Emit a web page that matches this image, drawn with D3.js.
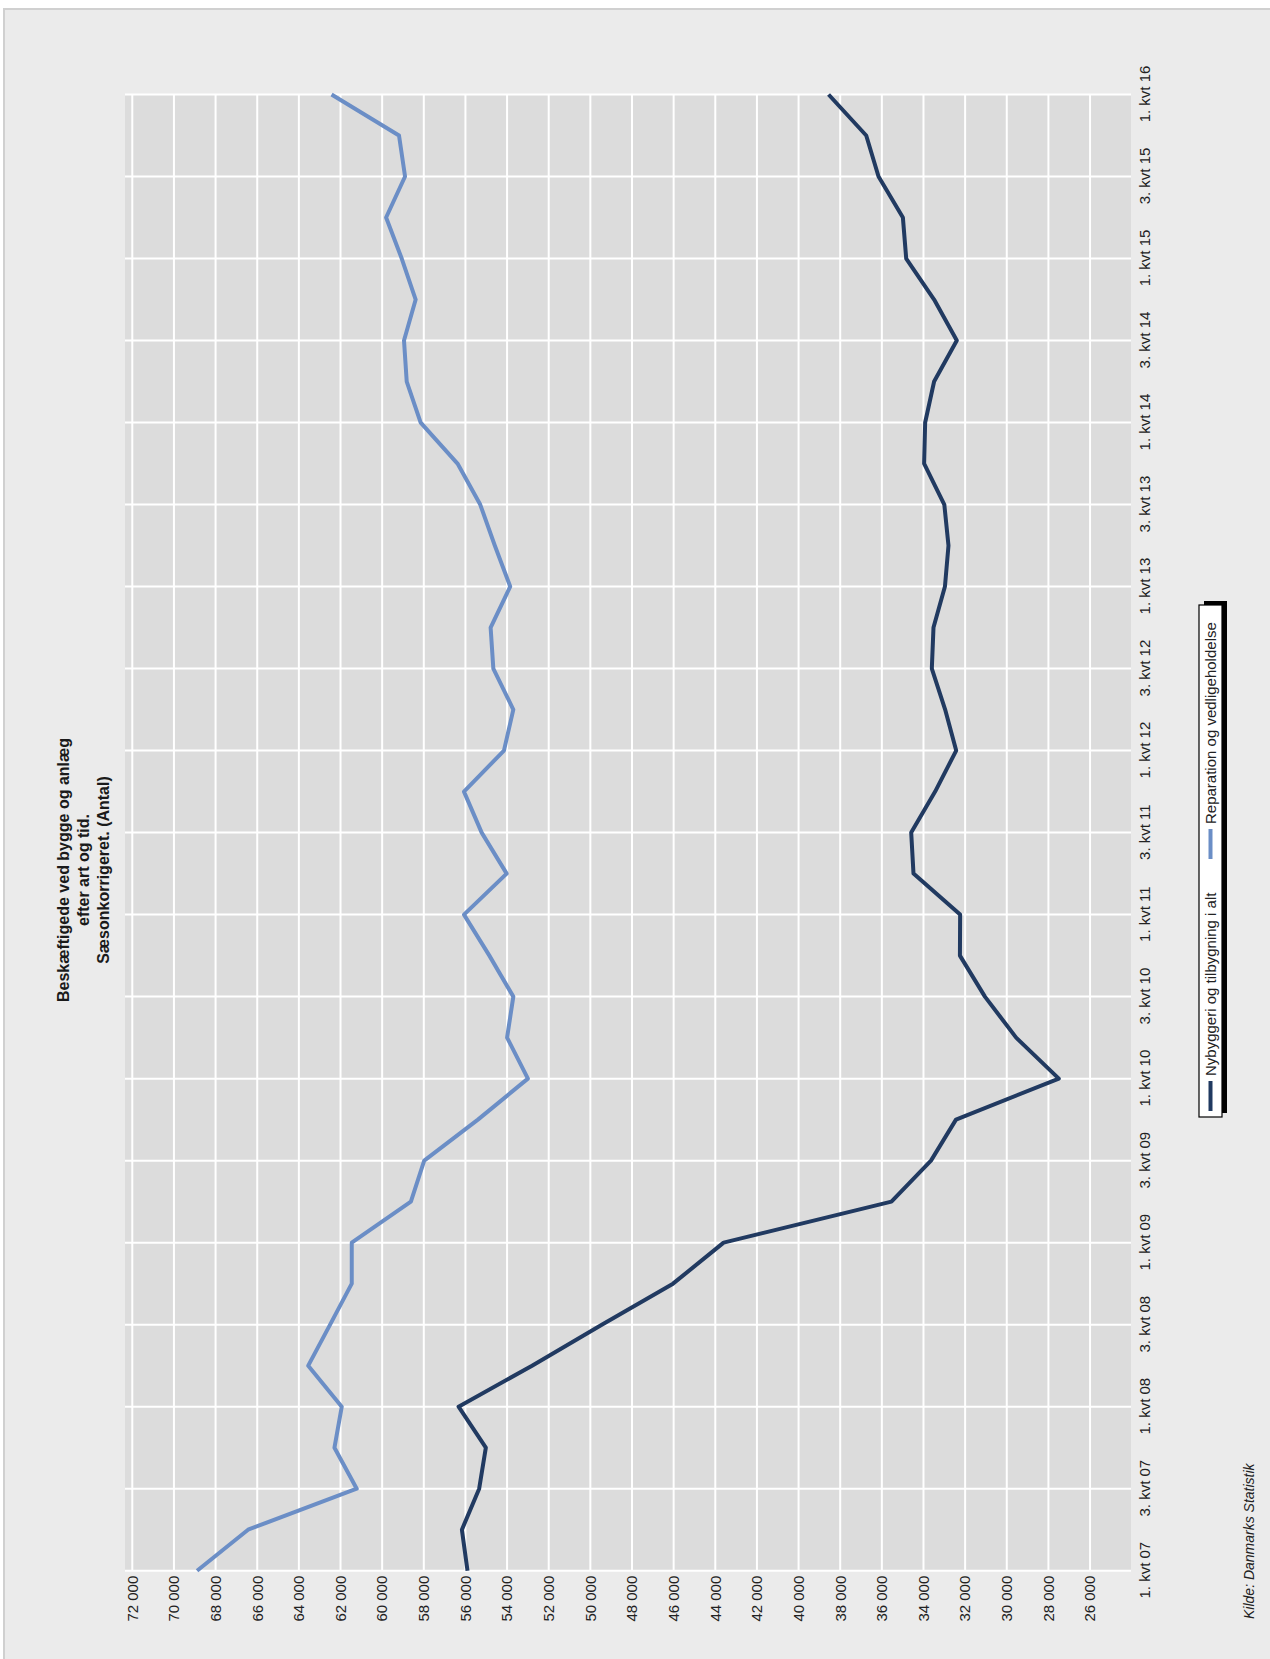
<!DOCTYPE html>
<html>
<head>
<meta charset="utf-8">
<script src="https://cdn.jsdelivr.net/npm/d3@7"></script>
<style>
  html, body { margin: 0; padding: 0; background: #ffffff; }
  svg { display: block; font-family: "Liberation Sans", Arial, sans-serif; }
</style>
</head>
<body>
<svg id="chart" width="1270" height="1659"></svg>
<script>
// Quarters shown on the category axis
const quarters = [
  "1. kvt 07", "2. kvt 07", "3. kvt 07", "4. kvt 07",
  "1. kvt 08", "2. kvt 08", "3. kvt 08", "4. kvt 08",
  "1. kvt 09", "2. kvt 09", "3. kvt 09", "4. kvt 09",
  "1. kvt 10", "2. kvt 10", "3. kvt 10", "4. kvt 10",
  "1. kvt 11", "2. kvt 11", "3. kvt 11", "4. kvt 11",
  "1. kvt 12", "2. kvt 12", "3. kvt 12", "4. kvt 12",
  "1. kvt 13", "2. kvt 13", "3. kvt 13", "4. kvt 13",
  "1. kvt 14", "2. kvt 14", "3. kvt 14", "4. kvt 14",
  "1. kvt 15", "2. kvt 15", "3. kvt 15", "4. kvt 15",
  "1. kvt 16"
];

// Employed persons, seasonally adjusted
const nybyggeri = [
  55900, 56170, 55340, 55020, 56330, 52800, 49450, 46030,
  43600, 35540, 33640, 32440, 27500, 29550, 31050, 32250,
  32240, 34480, 34590, 33440, 32430, 32960, 33600, 33520,
  32970, 32800, 33000, 33970, 33920, 33490, 32400, 33490,
  34830, 34990, 36160, 36750, 38560
];
const reparation = [
  68890, 66440, 61220, 62290, 61940, 63550, 62500, 61460,
  61460, 58620, 57980, 55400, 53000, 54000, 53700, 54850,
  56070, 54020, 55220, 56070, 54150, 53700, 54660, 54790,
  53850, 54590, 55290, 56380, 58150, 58820, 58950, 58390,
  59060, 59810, 58900, 59190, 62430
];

const valueTicks = [72000, 70000, 68000, 66000, 64000, 62000, 60000, 58000,
  56000, 54000, 52000, 50000, 48000, 46000, 44000, 42000, 40000, 38000,
  36000, 34000, 32000, 30000, 28000, 26000];
const categoryTicks = quarters.filter((d, i) => i % 2 === 0);

const seriesNames = ["Nybyggeri og tilbygning i alt", "Reparation og vedligeholdelse"];
const seriesColors = ["#213a61", "#6b8ec6"];
const titleLines = ["Beskæftigede ved bygge og anlæg", "efter art og tid.", "Sæsonkorrigeret. (Antal)"];
const sourceNote = "Kilde: Danmarks Statistik";

const W = 1270, H = 1659;
const svg = d3.select("#chart");

// chart area background
svg.append("rect")
  .attr("x", 4).attr("y", 9)
  .attr("width", W).attr("height", H)
  .attr("fill", "#ebebeb")
  .attr("stroke", "#d0d0d0")
  .attr("stroke-width", 2);

// The chart is laid out in its own frame (width = page height) and turned a quarter turn.
const g = svg.append("g").attr("transform", `translate(0,${H}) rotate(-90)`);

const plot = { left: 88.3, right: 1564.5, top: 125, bottom: 1131 };

const x = d3.scalePoint().domain(quarters).range([plot.left, plot.right]);
const y = d3.scaleLinear().domain([72000, 24000]).range([132.3, 1131.7]);

const fmt = d3.formatLocale({ decimal: ",", thousands: " ", grouping: [3], currency: ["", ""] }).format(",d");

// plot area
g.append("rect")
  .attr("x", plot.left).attr("y", plot.top)
  .attr("width", plot.right - plot.left)
  .attr("height", plot.bottom - plot.top)
  .attr("fill", "#dcdcdc");

// gridlines
g.append("g").selectAll("line").data(valueTicks).join("line")
  .attr("x1", plot.left).attr("x2", plot.right)
  .attr("y1", d => y(d)).attr("y2", d => y(d))
  .attr("stroke", "#ffffff").attr("stroke-width", 2);

g.append("g").selectAll("line").data(categoryTicks).join("line")
  .attr("x1", d => x(d)).attr("x2", d => x(d))
  .attr("y1", plot.top).attr("y2", plot.bottom)
  .attr("stroke", "#ffffff").attr("stroke-width", 2);

// value axis
const yAxis = g.append("g")
  .attr("transform", `translate(${plot.left - 1},0)`)
  .call(d3.axisLeft(y).tickValues(valueTicks).tickFormat(fmt).tickSize(0).tickPadding(4));
yAxis.select(".domain").remove();
yAxis.selectAll("text")
  .attr("font-size", 15)
  .attr("font-family", "Liberation Sans, Arial, sans-serif")
  .attr("fill", "#222");

// category axis
const xAxis = g.append("g")
  .attr("transform", `translate(0,${plot.bottom})`)
  .call(d3.axisBottom(x).tickValues(categoryTicks).tickSize(0).tickPadding(8));
xAxis.select(".domain").remove();
xAxis.selectAll("text")
  .attr("font-size", 15)
  .attr("font-family", "Liberation Sans, Arial, sans-serif")
  .attr("fill", "#222");

// series lines
const line = d3.line()
  .x((d, i) => x(quarters[i]))
  .y(d => y(d));

[nybyggeri, reparation].forEach((values, k) => {
  g.append("path")
    .datum(values)
    .attr("d", line)
    .attr("fill", "none")
    .attr("stroke", seriesColors[k])
    .attr("stroke-width", 4)
    .attr("stroke-linejoin", "round");
});

// title
const title = g.append("text")
  .attr("text-anchor", "middle")
  .attr("font-weight", "bold")
  .attr("font-size", 16)
  .attr("fill", "#1a1a1a");
titleLines.forEach((t, i) => {
  title.append("tspan").attr("x", 789).attr("y", 69 + i * 20).text(t);
});

// legend
const legend = { x: 542, y: 1199, w: 512, h: 23 };
g.append("rect")
  .attr("x", legend.x + 4).attr("y", legend.y + 5)
  .attr("width", legend.w).attr("height", legend.h)
  .attr("fill", "#000");
g.append("rect")
  .attr("x", legend.x).attr("y", legend.y)
  .attr("width", legend.w).attr("height", legend.h)
  .attr("fill", "#ffffff")
  .attr("stroke", "#000").attr("stroke-width", 1.2);

const legendItems = [
  { name: seriesNames[0], color: seriesColors[0], x0: 548 },
  { name: seriesNames[1], color: seriesColors[1], x0: 800 }
];
const cy = legend.y + legend.h / 2;
legendItems.forEach(item => {
  g.append("line")
    .attr("x1", item.x0).attr("x2", item.x0 + 30)
    .attr("y1", cy).attr("y2", cy)
    .attr("stroke", item.color).attr("stroke-width", 4);
  g.append("text")
    .attr("x", item.x0 + 35).attr("y", cy + 5.3)
    .attr("font-size", 15)
    .attr("fill", "#222")
    .text(item.name);
});

// source note
g.append("text")
  .attr("x", 40).attr("y", 1254)
  .attr("font-size", 14)
  .attr("font-style", "italic")
  .attr("fill", "#222")
  .text(sourceNote);
</script>
</body>
</html>
